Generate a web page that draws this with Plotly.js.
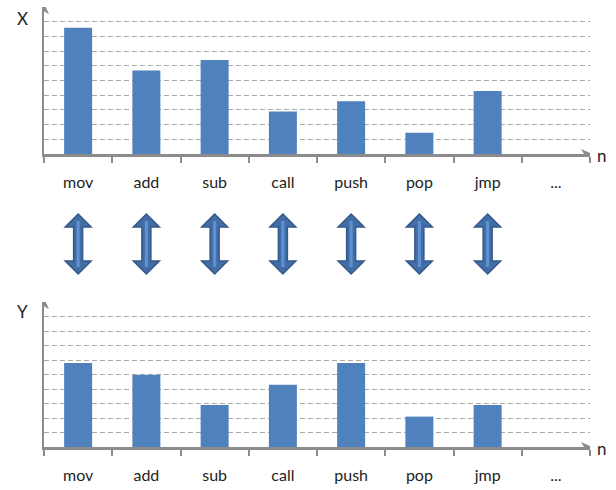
<!DOCTYPE html>
<html>
<head>
<meta charset="utf-8">
<script src="https://cdn.plot.ly/plotly-3.0.1.min.js"></script>
<style>html,body{margin:0;padding:0;background:#fff;}#chart{width:616px;height:490px;}</style>
</head>
<body>
<div id="chart"></div>
<script>
// ---- data ----
const categories = ['mov', 'add', 'sub', 'call', 'push', 'pop', 'jmp', '...'];
const xValues = [8.6, 5.7, 6.4, 2.9, 3.6, 1.45, 4.3, null];
const yValues = [5.8, 5.0, 2.9, 4.3, 5.8, 2.1, 2.9, null];
const topLabel = 'X';
const bottomLabel = 'Y';
const xAxisLabel = 'n';

// ---- style ----
const barColor = '#4f81bd';
const axisColor = '#8c8c8c';
const gridColor = '#a9a9a9';
const textColor = '#1e1e1e';
const font = 'Lato, "Open Sans", sans-serif';

const traces = [
  {type: 'bar', x: categories, y: xValues, xaxis: 'x', yaxis: 'y',
   marker: {color: barColor, line: {width: 0}}, hoverinfo: 'skip'},
  {type: 'bar', x: categories, y: yValues, xaxis: 'x2', yaxis: 'y2',
   marker: {color: barColor, line: {width: 0}}, hoverinfo: 'skip'}
];

function xAxis(anchor) {
  return {
    domain: [44 / 616, 590 / 616], anchor: anchor, type: 'category',
    categoryorder: 'array', categoryarray: categories,
    range: [-0.5, categories.length - 0.5],
    showgrid: false, zeroline: false, showline: true, linecolor: axisColor, linewidth: 2.5,
    ticks: 'outside', tickson: 'boundaries', ticklen: 6, tickwidth: 2, tickcolor: axisColor,
    ticklabelstandoff: 12,
    tickfont: {family: font, size: 16, color: textColor}, fixedrange: true
  };
}
function yAxis(anchor, domain) {
  return {
    domain: domain, anchor: anchor, range: [0, 10.02], dtick: 1, tick0: 0,
    showticklabels: false, ticks: '', zeroline: false,
    showgrid: true, gridcolor: gridColor, gridwidth: 1, griddash: '5px,3px',
    showline: true, linecolor: axisColor, linewidth: 2.5, fixedrange: true
  };
}

const shapes = [];
// axis arrowheads
function axisHeads(xref, yref) {
  shapes.push({type: 'path', xref: xref, yref: yref, xsizemode: 'pixel', ysizemode: 'pixel',
    xanchor: categories.length - 0.5, yanchor: 0,
    path: 'M 2,0 L -9,5 L -6,0 L -9,-5 Z', fillcolor: axisColor, line: {width: 0}});
  shapes.push({type: 'path', xref: xref, yref: yref, xsizemode: 'pixel', ysizemode: 'pixel',
    xanchor: -0.5, yanchor: 10,
    path: 'M 0,4 L 5,-7 L 0,-4 L -5,-7 Z', fillcolor: axisColor, line: {width: 0}});
}
axisHeads('x', 'y');
axisHeads('x2', 'y2');

// double arrows linking the two charts
const arrowCenterY = 1 - 244 / 490;
categories.forEach((c, i) => {
  if (xValues[i] === null) return;
  shapes.push({type: 'path', xref: 'x', yref: 'paper', xsizemode: 'pixel', ysizemode: 'pixel',
    xanchor: i, yanchor: arrowCenterY,
    path: 'M 0,30 L 13,17 L 4.5,17 L 4.5,-17 L 13,-17 L 0,-30 L -13,-17 L -4.5,-17 L -4.5,17 L -13,17 Z',
    fillcolor: '#416ea6', line: {color: '#34598a', width: 1.5}});
  shapes.push({type: 'path', xref: 'x', yref: 'paper', xsizemode: 'pixel', ysizemode: 'pixel',
    xanchor: i, yanchor: arrowCenterY,
    path: 'M -1.5,23 L 1.5,23 L 1.5,-23 L -1.5,-23 Z',
    fillcolor: '#5f92d2', line: {width: 0}});
});

function label(text, px, py) {
  return {text: text, xref: 'paper', yref: 'paper', x: px / 616, y: 1 - py / 490,
    xanchor: 'center', yanchor: 'middle', showarrow: false,
    font: {family: font, size: 17, color: textColor}};
}
const annotations = [
  label(topLabel, 22, 18),
  label(bottomLabel, 22, 311),
  label(xAxisLabel, 602, 155),
  label(xAxisLabel, 602, 448)
];

const layout = {
  width: 616, height: 490,
  margin: {l: 0, r: 0, t: 0, b: 0},
  paper_bgcolor: '#ffffff', plot_bgcolor: '#ffffff',
  showlegend: false, bargap: 0.59,
  xaxis: xAxis('y'),
  yaxis: yAxis('x', [1 - 154 / 490, 1 - 7 / 490]),
  xaxis2: xAxis('y2'),
  yaxis2: yAxis('x2', [1 - 447 / 490, 1 - 302 / 490]),
  shapes: shapes,
  annotations: annotations,
  font: {family: font}
};

Plotly.newPlot('chart', traces, layout, {displayModeBar: false, staticPlot: true});
</script>
</body>
</html>
